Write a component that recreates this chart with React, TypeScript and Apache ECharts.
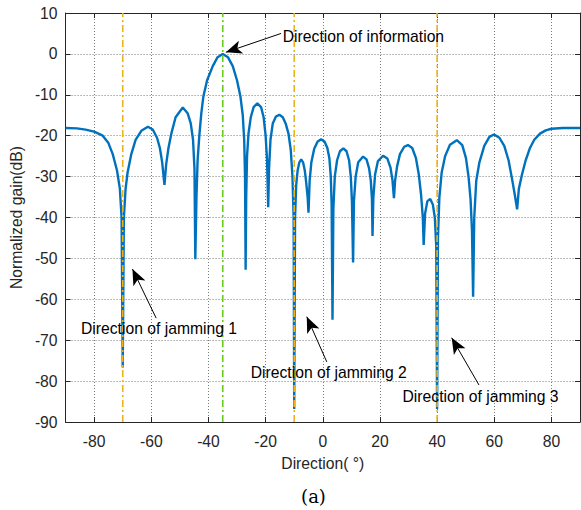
import React, { useEffect, useRef } from "react";
import * as echarts from "echarts";

// Beam pattern: [direction (deg), normalized gain (dB)]
const patternPoints: [number, number][] = [
  [-90, -18.1], [-86, -18.2], [-83, -18.5], [-80, -19.0], [-77, -20.0], [-75, -21.8],
  [-73.5, -24.5], [-72, -28.5], [-71, -33], [-70.4, -40], [-70, -76.7],
  [-69.6, -40], [-69, -33], [-68.3, -29], [-67, -24.5], [-65.5, -21], [-63.5, -18.8],
  [-61.2, -17.8], [-59.5, -18.5], [-58, -20.5], [-57, -23], [-56.2, -26.5], [-55.4, -32],
  [-54.8, -27], [-54, -23], [-53, -19.5], [-51.5, -15.5], [-49, -13.1], [-47.3, -14.5],
  [-46.2, -17], [-45.4, -21], [-44.9, -28], [-44.6, -50.2],
  [-44.2, -35], [-43.8, -26], [-43.2, -20], [-42.5, -14.5], [-41.8, -10.5], [-40.5, -6.5],
  [-38.5, -3], [-36.8, -0.8], [-35, 0], [-33.2, -0.8], [-31.5, -3], [-30, -6.5],
  [-28.8, -10.5], [-28, -15], [-27.5, -21], [-27.2, -30], [-27, -52.8],
  [-26.8, -35], [-26.5, -25], [-26, -19.5], [-25.2, -15.5], [-24.2, -13], [-22.9, -12.1],
  [-21.6, -13], [-20.7, -15.5], [-20, -20], [-19.5, -26], [-19.1, -37.5],
  [-18.8, -28], [-18.3, -21], [-17.5, -17], [-16.4, -15.3], [-15.2, -14.9], [-14, -15.5],
  [-13, -17], [-12, -19.5], [-11.2, -23.5], [-10.6, -30], [-10.2, -40], [-10, -86.8],
  [-9.7, -40], [-9.3, -32], [-8.8, -28.5], [-8.2, -26.5], [-7.55, -25.8], [-6.9, -26.5],
  [-6.3, -28.5], [-5.8, -31.5], [-5.3, -35], [-5, -38.8],
  [-4.6, -31], [-4, -26.5], [-3, -23.2], [-1.8, -21.4], [-0.6, -20.9], [0.6, -21.4],
  [1.6, -23], [2.3, -25.5], [2.8, -30], [3.1, -37], [3.4, -65],
  [3.7, -38], [4.2, -30], [5, -26], [6, -23.8], [7.2, -23.1], [8.3, -23.8],
  [9.2, -26], [9.8, -30], [10.2, -36], [10.6, -51],
  [10.9, -36], [11.5, -30], [12.4, -26.5], [14.1, -25.1], [15.3, -25.8], [16.2, -28],
  [16.8, -31], [17.2, -35.5], [17.4, -44.5],
  [17.7, -35], [18.3, -29.5], [19.3, -26.2], [21.1, -24.9], [22.6, -25.6], [23.7, -27.8],
  [24.4, -31], [24.9, -35.3],
  [25.3, -31], [26, -27.5], [27, -24.5], [28.5, -22.7], [29.8, -22.3], [31.3, -23],
  [32.6, -25.5], [33.6, -29.5], [34.4, -34.5], [35, -40], [35.3, -46.7],
  [35.8, -39], [36.6, -36], [37.6, -35.5], [38.5, -36.8], [39.2, -40], [39.7, -47], [40, -86.8],
  [40.3, -45], [40.8, -35], [41.6, -29], [42.8, -25], [44.5, -22.2], [46.9, -21.1],
  [48.8, -22.3], [50.1, -25.5], [51, -30], [51.7, -35.5], [52.2, -43], [52.6, -59.4],
  [53, -40], [53.7, -31], [54.8, -26.5], [56.5, -22.5], [58.3, -20.3], [59.9, -19.7],
  [61.8, -20.5], [63.5, -22.5], [65, -26], [66.2, -30.5], [67.2, -34.5], [68, -38],
  [68.6, -33], [69.7, -29.5], [71, -26], [72.5, -23], [74, -21], [76, -19.5],
  [78, -18.7], [80, -18.3], [84, -18.1], [90, -18.1],
];

const jammingDirections = [-70, -10, 40];
const informationDirection = -35;

// Annotations in data coordinates: text anchor (left, middle), arrow tail, arrow tip
const annotationTexts = [
  "Direction of information",
  "Direction of jamming 1",
  "Direction of jamming 2",
  "Direction of jamming 3",
];
const annotationTextAt: [number, number][] = [
  [-14.0, 4.2], [-84.6, -67.1], [-25.2, -77.85], [27.9, -83.8],
];
const arrowTails: [number, number][] = [
  [-14.6, 5.0], [-58.3, -64.6], [1.4, -75.3], [54.65, -80.95],
];
const arrowTips: [number, number][] = [
  [-33.9, 0.4], [-66.6, -52.6], [-5.6, -64.25], [45.1, -69.4],
];

const FONT = "'Liberation Sans', Arial, Helvetica, sans-serif";
const AXIS_COLOR = "#262626";
const FS = 15.7;

export default function App() {
  const ref = useRef<HTMLDivElement>(null);

  useEffect(() => {
    if (!ref.current) return;
    const chart = echarts.init(ref.current, undefined, { renderer: "svg" });

    const gridLine = { show: true, lineStyle: { color: "#7a7a7a", type: [1, 2] as any, width: 1 } };
    const baseX = {
      type: "value" as const,
      min: -90,
      max: 90,
      splitNumber: 9,
      minInterval: 20,
      maxInterval: 20,
      axisLine: { show: true, onZero: false, lineStyle: { color: AXIS_COLOR, width: 1 } },
      axisTick: { show: true, inside: true, length: 5, lineStyle: { color: AXIS_COLOR } },
    };
    const baseY = {
      type: "value" as const,
      min: -90,
      max: 10,
      interval: 10,
      axisLine: { show: true, onZero: false, lineStyle: { color: AXIS_COLOR, width: 1 } },
      axisTick: { show: true, inside: true, length: 5, lineStyle: { color: AXIS_COLOR } },
    };

    const vSeries = (x: number, color: string, name: string) => ({
      type: "line" as const,
      name,
      data: [[x, -90], [x, 10]],
      symbol: "none",
      silent: true,
      z: 4,
      lineStyle: { color, width: 1.6, type: [7, 3, 2, 3] as any },
    });

    const markData = arrowTails.map((t, i) => [
      { coord: t },
      { coord: arrowTips[i] },
    ]);

    chart.setOption({
      animation: false,
      backgroundColor: "#fff",
      grid: { left: 62, top: 13, right: 1, bottom: 88, containLabel: false },
      xAxis: [
        {
          ...baseX,
          position: "bottom",
          name: "Direction( °)",
          nameLocation: "middle",
          nameGap: 33,
          nameTextStyle: { fontFamily: FONT, fontSize: FS, color: AXIS_COLOR },
          axisLabel: {
            fontFamily: FONT, fontSize: FS, color: AXIS_COLOR, margin: 11,
            showMinLabel: false, showMaxLabel: false,
          },
          splitLine: gridLine,
        },
        {
          ...baseX,
          position: "top",
          axisLabel: { show: false },
          splitLine: { show: false },
        },
      ],
      yAxis: [
        {
          ...baseY,
          position: "left",
          name: "Normalized gain(dB)",
          nameLocation: "middle",
          nameGap: 34,
          nameTextStyle: { fontFamily: FONT, fontSize: FS, color: AXIS_COLOR },
          axisLabel: { fontFamily: FONT, fontSize: FS, color: AXIS_COLOR, margin: 8 },
          splitLine: gridLine,
        },
        {
          ...baseY,
          position: "right",
          axisLabel: { show: false },
          splitLine: { show: false },
        },
      ],
      series: [
        {
          type: "line",
          data: patternPoints,
          symbol: "none",
          z: 3,
          clip: true,
          lineStyle: { color: "#0072BD", width: 2.4 },
          markLine: {
            silent: true,
            symbol: ["none", "arrow"],
            symbolSize: [10, 16],
            label: { show: false },
            lineStyle: { color: "#000", width: 1, type: "solid" },
            emphasis: { disabled: true },
            data: markData,
            z: 6,
          },
        },
        ...jammingDirections.map((x, i) => vSeries(x, "#EDB120", "jam" + i)),
        vSeries(informationDirection, "#66CC1A", "info"),
      ],
    });

    const texts = annotationTexts.map((t, i) => {
      const p = chart.convertToPixel({ gridIndex: 0 }, annotationTextAt[i]) as number[];
      return {
        type: "text",
        x: p[0],
        y: p[1],
        z: 10,
        style: {
          text: t,
          fontFamily: FONT,
          fontSize: FS,
          fill: "#000",
          textAlign: "left",
          textVerticalAlign: "middle",
        },
      };
    });

    chart.setOption({
      graphic: [
        ...texts,
        {
          type: "text",
          x: 313.5,
          y: 496,
          style: {
            text: "(a)",
            fontFamily: "'DejaVu Serif', 'Liberation Serif', serif",
            fontSize: 18,
            fill: "#000",
            textAlign: "center",
            textVerticalAlign: "middle",
          },
        },
      ],
    });

    return () => chart.dispose();
  }, []);

  return (
    <div
      ref={ref}
      style={{ position: "fixed", left: 0, top: 0, width: 581, height: 510, background: "#fff" }}
    />
  );
}
